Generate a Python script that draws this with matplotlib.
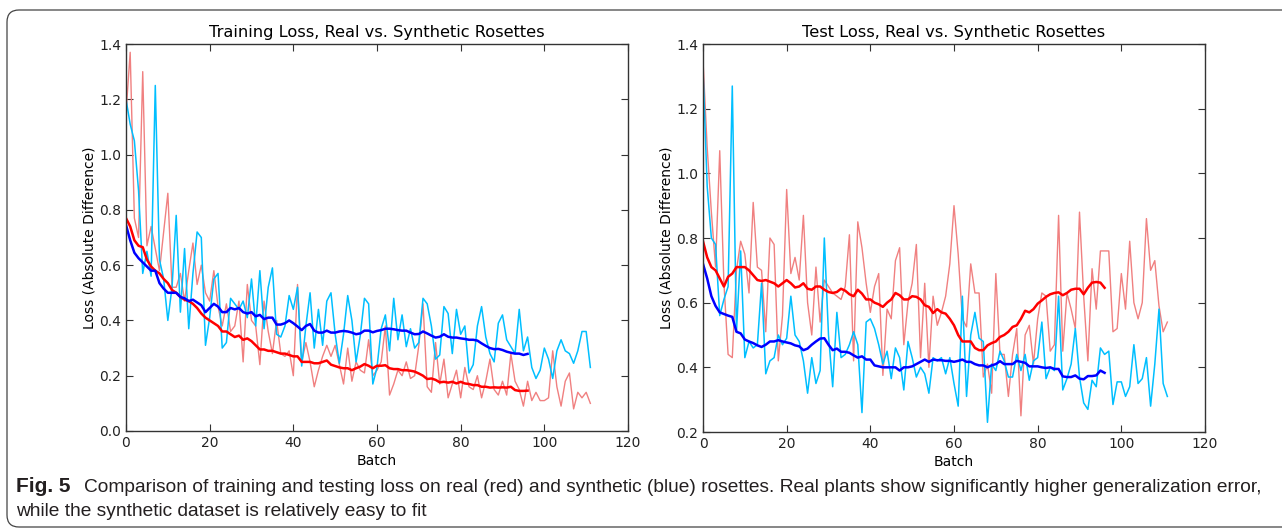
import numpy as np
import matplotlib
matplotlib.use('Agg')
import matplotlib.pyplot as plt
from matplotlib.patches import FancyBboxPatch
from matplotlib.transforms import IdentityTransform

# --- data -----------------------------------------------------------------
train_real_raw = [
    1.15, 1.37, 0.77, 0.70, 1.30, 0.67, 0.74, 0.66, 0.58, 0.72,
    0.86, 0.52, 0.52, 0.57, 0.47, 0.58, 0.68, 0.53, 0.60, 0.50,
    0.47, 0.58, 0.45, 0.38, 0.46, 0.36, 0.38, 0.47, 0.25, 0.53,
    0.40, 0.38, 0.24, 0.47, 0.36, 0.28, 0.40, 0.28, 0.27, 0.29,
    0.20, 0.53, 0.25, 0.32, 0.25, 0.16, 0.22, 0.27, 0.31, 0.27,
    0.31, 0.24, 0.17, 0.30, 0.18, 0.25, 0.22, 0.21, 0.33, 0.20,
    0.22, 0.25, 0.38, 0.13, 0.17, 0.22, 0.20, 0.25, 0.19, 0.20,
    0.31, 0.46, 0.16, 0.14, 0.32, 0.17, 0.26, 0.12, 0.17, 0.22,
    0.12, 0.23, 0.16, 0.15, 0.20, 0.12, 0.18, 0.26, 0.15, 0.13,
    0.18, 0.13, 0.28, 0.18, 0.15, 0.09, 0.18, 0.11, 0.14, 0.11,
    0.11, 0.12, 0.29, 0.16, 0.09, 0.18, 0.21, 0.08, 0.14, 0.12,
    0.14, 0.10]
train_syn_raw = [
    1.20, 1.11, 1.05, 0.87, 0.57, 0.65, 0.56, 1.25, 0.62, 0.55,
    0.40, 0.52, 0.78, 0.43, 0.66, 0.37, 0.57, 0.72, 0.70, 0.31,
    0.41, 0.55, 0.57, 0.30, 0.32, 0.48, 0.46, 0.44, 0.47, 0.41,
    0.55, 0.38, 0.58, 0.37, 0.52, 0.59, 0.35, 0.34, 0.38, 0.49,
    0.44, 0.52, 0.235, 0.38, 0.50, 0.30, 0.44, 0.31, 0.47, 0.50,
    0.35, 0.245, 0.35, 0.49, 0.40, 0.25, 0.345, 0.48, 0.46, 0.17,
    0.23, 0.37, 0.42, 0.29, 0.48, 0.33, 0.42, 0.305, 0.37, 0.30,
    0.32, 0.48, 0.46, 0.38, 0.26, 0.275, 0.45, 0.425, 0.28, 0.44,
    0.35, 0.38, 0.21, 0.24, 0.38, 0.45, 0.34, 0.28, 0.25, 0.39,
    0.42, 0.33, 0.305, 0.28, 0.44, 0.29, 0.34, 0.23, 0.19, 0.22,
    0.30, 0.26, 0.19, 0.29, 0.33, 0.29, 0.28, 0.245, 0.29, 0.36,
    0.36, 0.23]
train_real_smooth = [
    0.77, 0.74, 0.69, 0.67, 0.665, 0.62, 0.595, 0.58, 0.57, 0.55,
    0.535, 0.51, 0.50, 0.485, 0.475, 0.47, 0.46, 0.445, 0.425, 0.41,
    0.40, 0.39, 0.38, 0.36, 0.36, 0.35, 0.34, 0.345, 0.33, 0.335,
    0.325, 0.31, 0.295, 0.295, 0.29, 0.29, 0.285, 0.28, 0.28, 0.275,
    0.27, 0.27, 0.25, 0.25, 0.25, 0.245, 0.245, 0.25, 0.255, 0.24,
    0.235, 0.23, 0.227, 0.227, 0.22, 0.227, 0.233, 0.242, 0.236, 0.227,
    0.236, 0.236, 0.238, 0.227, 0.224, 0.224, 0.22, 0.22, 0.218, 0.215,
    0.208, 0.20, 0.188, 0.19, 0.185, 0.176, 0.178, 0.175, 0.178, 0.172,
    0.178, 0.172, 0.17, 0.166, 0.166, 0.16, 0.16, 0.157, 0.158, 0.157,
    0.158, 0.157, 0.16, 0.148, 0.145, 0.145, 0.146]
train_syn_smooth = [
    0.745, 0.69, 0.645, 0.625, 0.61, 0.595, 0.58, 0.58, 0.535, 0.515,
    0.50, 0.50, 0.50, 0.485, 0.48, 0.47, 0.475, 0.465, 0.455, 0.43,
    0.445, 0.46, 0.45, 0.43, 0.43, 0.445, 0.44, 0.445, 0.43, 0.425,
    0.43, 0.415, 0.42, 0.405, 0.41, 0.41, 0.385, 0.385, 0.39, 0.40,
    0.39, 0.378, 0.365, 0.38, 0.387, 0.363, 0.356, 0.356, 0.363, 0.356,
    0.356, 0.36, 0.362, 0.36, 0.356, 0.35, 0.353, 0.363, 0.363, 0.357,
    0.362, 0.365, 0.37, 0.37, 0.368, 0.365, 0.363, 0.363, 0.356, 0.35,
    0.351, 0.36, 0.353, 0.345, 0.338, 0.341, 0.35, 0.341, 0.338, 0.338,
    0.335, 0.333, 0.33, 0.33, 0.327, 0.317, 0.308, 0.30, 0.296, 0.297,
    0.293, 0.287, 0.283, 0.28, 0.28, 0.275, 0.279]

test_real_raw = [
    1.35, 1.08, 0.88, 0.71, 1.07, 0.66, 0.44, 0.43, 0.70, 0.79,
    0.75, 0.63, 0.91, 0.71, 0.70, 0.51, 0.80, 0.78, 0.42, 0.56,
    0.95, 0.69, 0.74, 0.67, 0.87, 0.60, 0.50, 0.71, 0.54, 0.67,
    0.65, 0.63, 0.62, 0.61, 0.65, 0.81, 0.42, 0.85, 0.77, 0.66,
    0.57, 0.65, 0.69, 0.375, 0.58, 0.55, 0.73, 0.77, 0.47, 0.60,
    0.66, 0.78, 0.43, 0.66, 0.40, 0.62, 0.53, 0.57, 0.62, 0.72,
    0.90, 0.75, 0.55, 0.525, 0.72, 0.63, 0.63, 0.37, 0.41, 0.32,
    0.69, 0.44, 0.44, 0.31, 0.44, 0.52, 0.25, 0.50, 0.53, 0.41,
    0.55, 0.63, 0.62, 0.45, 0.47, 0.87, 0.45, 0.63, 0.58, 0.52,
    0.88, 0.62, 0.42, 0.705, 0.58, 0.76, 0.76, 0.76, 0.51, 0.52,
    0.69, 0.58, 0.79, 0.60, 0.55, 0.60, 0.86, 0.70, 0.73, 0.59,
    0.51, 0.54]
test_syn_raw = [
    1.32, 0.96, 0.80, 0.78, 0.56, 0.61, 0.65, 1.27, 0.51, 0.76,
    0.43, 0.48, 0.46, 0.47, 0.66, 0.38, 0.42, 0.43, 0.50, 0.47,
    0.49, 0.62, 0.50, 0.48, 0.42, 0.32, 0.43, 0.35, 0.39, 0.80,
    0.50, 0.34, 0.57, 0.43, 0.44, 0.47, 0.51, 0.47, 0.26, 0.54,
    0.55, 0.52, 0.47, 0.41, 0.45, 0.365, 0.46, 0.43, 0.33, 0.48,
    0.43, 0.37, 0.40, 0.38, 0.32, 0.43, 0.42, 0.43, 0.38, 0.43,
    0.35, 0.28, 0.62, 0.31, 0.50, 0.57, 0.49, 0.48, 0.23, 0.41,
    0.39, 0.45, 0.42, 0.37, 0.37, 0.44, 0.39, 0.44, 0.36, 0.42,
    0.43, 0.54, 0.365, 0.40, 0.39, 0.62, 0.33, 0.365, 0.41, 0.52,
    0.37, 0.29, 0.27, 0.36, 0.34, 0.46, 0.44, 0.45, 0.285, 0.355,
    0.355, 0.31, 0.34, 0.47, 0.35, 0.365, 0.43, 0.28, 0.41, 0.58,
    0.35, 0.31]
test_real_smooth = [
    0.79, 0.74, 0.71, 0.70, 0.675, 0.65, 0.68, 0.69, 0.71, 0.71,
    0.71, 0.70, 0.685, 0.67, 0.667, 0.67, 0.665, 0.66, 0.65, 0.66,
    0.67, 0.66, 0.647, 0.65, 0.66, 0.643, 0.64, 0.65, 0.65, 0.64,
    0.633, 0.63, 0.633, 0.643, 0.637, 0.626, 0.62, 0.64, 0.628, 0.61,
    0.61, 0.60, 0.595, 0.587, 0.60, 0.61, 0.63, 0.623, 0.61, 0.61,
    0.62, 0.618, 0.61, 0.592, 0.587, 0.568, 0.58, 0.57, 0.566, 0.55,
    0.53, 0.50, 0.48, 0.48, 0.48, 0.46, 0.453, 0.453, 0.468, 0.475,
    0.48, 0.494, 0.50, 0.51, 0.525, 0.53, 0.55, 0.575, 0.57, 0.58,
    0.597, 0.607, 0.618, 0.626, 0.63, 0.632, 0.623, 0.63, 0.64, 0.643,
    0.643, 0.626, 0.646, 0.662, 0.664, 0.662, 0.646]
test_syn_smooth = [
    0.72, 0.675, 0.62, 0.59, 0.57, 0.565, 0.56, 0.556, 0.51, 0.505,
    0.486, 0.48, 0.475, 0.468, 0.463, 0.47, 0.48, 0.48, 0.484, 0.48,
    0.477, 0.474, 0.468, 0.465, 0.453, 0.458, 0.47, 0.48, 0.489, 0.49,
    0.47, 0.453, 0.458, 0.448, 0.448, 0.445, 0.437, 0.43, 0.434, 0.424,
    0.424, 0.406, 0.403, 0.40, 0.40, 0.40, 0.40, 0.39, 0.40, 0.40,
    0.403, 0.41, 0.417, 0.424, 0.417, 0.424, 0.422, 0.422, 0.42, 0.42,
    0.417, 0.42, 0.424, 0.417, 0.417, 0.41, 0.406, 0.406, 0.40, 0.406,
    0.41, 0.419, 0.41, 0.41, 0.41, 0.42, 0.417, 0.414, 0.403, 0.403,
    0.403, 0.40, 0.398, 0.40, 0.395, 0.395, 0.372, 0.37, 0.37, 0.375,
    0.365, 0.363, 0.373, 0.373, 0.375, 0.39, 0.383]

titles = ['Training Loss, Real vs. Synthetic Rosettes',
          'Test Loss, Real vs. Synthetic Rosettes']
ylims = [(0.0, 1.4), (0.2, 1.4)]
caption_bold = 'Fig. 5'
caption_1 = ('Comparison of training and testing loss on real (red) and synthetic (blue) '
             'rosettes. Real plants show significantly higher generalization error,')
caption_2 = 'while the synthetic dataset is relatively easy to fit'

# --- figure ---------------------------------------------------------------
plt.rcParams.update({
    'font.family': 'DejaVu Sans',
    'xtick.direction': 'in', 'ytick.direction': 'in',
    'xtick.top': True, 'ytick.right': True,
    'xtick.major.size': 5, 'ytick.major.size': 5,
    'axes.linewidth': 1.0, 'axes.edgecolor': '#333333',
})

W, H = 1282, 531
fig = plt.figure(figsize=(W / 100, H / 100), dpi=100)
fig.patch.set_facecolor('white')

def px_axes(x0, x1, y0, y1):
    return fig.add_axes([x0 / W, 1 - y1 / H, (x1 - x0) / W, (y1 - y0) / H])

ax_l = px_axes(126, 628, 44, 431)
ax_r = px_axes(703, 1205, 44, 432)

sets = [(ax_l, train_real_raw, train_syn_raw, train_real_smooth, train_syn_smooth),
        (ax_r, test_real_raw, test_syn_raw, test_real_smooth, test_syn_smooth)]

for i, (ax, rr, sr, rs, ss) in enumerate(sets):
    ax.plot(np.arange(len(rr)), rr, color='#f08080', lw=1.0)
    ax.plot(np.arange(len(sr)), sr, color='#00bfff', lw=1.1)
    ax.plot(np.arange(len(rs)), rs, color='red', lw=1.8)
    ax.plot(np.arange(len(ss)), ss, color='blue', lw=1.8)
    ax.set_xlim(0, 120)
    ax.set_ylim(*ylims[i])
    ax.set_xticks(range(0, 121, 20))
    ticks = np.arange(ylims[i][0], 1.41, 0.2)
    ax.set_yticks(ticks)
    ax.set_yticklabels([f'{v:.1f}' for v in ticks])
    ax.tick_params(labelsize=10, colors='#333333', labelcolor='#222222')
    ax.set_title(titles[i], fontsize=11.7, pad=5)
    ax.set_xlabel('Batch', fontsize=10, labelpad=3)
    ax.set_ylabel('Loss (Absolute Difference)', fontsize=10, labelpad=2)

# caption
cap_font = ['Liberation Sans', 'DejaVu Sans']
fig.text(16 / W, 1 - 487 / H, caption_bold, fontsize=15, fontweight='bold',
         family=cap_font, va='center', color='#231f20')
fig.text(84 / W, 1 - 487 / H, caption_1, fontsize=13.8, family=cap_font,
         va='center', color='#231f20')
fig.text(16 / W, 1 - 511 / H, caption_2, fontsize=13.8, family=cap_font,
         va='center', color='#231f20')

# rounded frame around the figure panel
frame = FancyBboxPatch((7, 4), 1400, 517, boxstyle='round,pad=0,rounding_size=12',
                       transform=IdentityTransform(), fill=False,
                       ec='#444444', lw=0.9)
fig.add_artist(frame)

fig.savefig('out.png', dpi=100)
